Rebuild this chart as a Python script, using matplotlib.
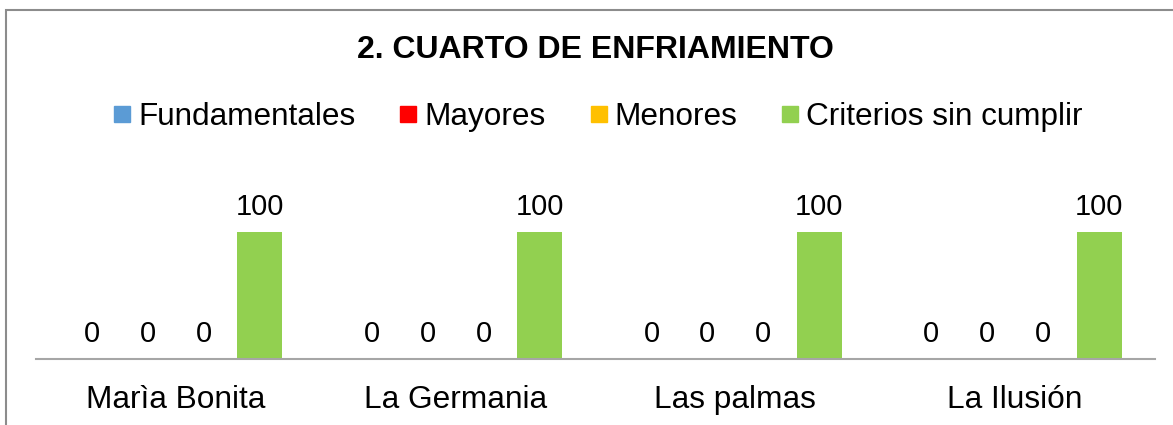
import matplotlib
matplotlib.use("Agg")
import matplotlib.pyplot as plt
from matplotlib.patches import Rectangle, Patch
from matplotlib.legend_handler import HandlerPatch
import numpy as np

plt.rcParams['font.family'] = ['Liberation Sans', 'DejaVu Sans']

categories = ["Marìa Bonita", "La Germania", "Las palmas", "La Ilusión"]
series_names = ["Fundamentales", "Mayores", "Menores", "Criterios sin cumplir"]
fundamentales = [0, 0, 0, 0]
mayores = [0, 0, 0, 0]
menores = [0, 0, 0, 0]
criterios = [100, 100, 100, 100]
colors = ["#5B9BD5", "#FF0000", "#FFC000", "#92D050"]
title = "2. CUARTO DE ENFRIAMIENTO"

W, H = 1173, 425
fig = plt.figure(figsize=(W / 100, H / 100), dpi=100)

# outer chart border (partly cut off on right/bottom)
fig.patches.append(Rectangle((6 / W, -0.1), 1.2, 1 - 10 / H + 0.1,
                             transform=fig.transFigure, fill=False,
                             edgecolor="#8c8c8c", linewidth=1.5))

ax = fig.add_axes([36 / W, 1 - 359 / H, (1155 - 36) / W, 152.4 / H])
x = np.arange(len(categories))
width = 45 / 280
offsets = [-0.3, -0.1, 0.1, 0.3]
all_series = [fundamentales, mayores, menores, criterios]
for vals, off, c, name in zip(all_series, offsets, colors, series_names):
    bars = ax.bar(x + off, vals, width, color=c, label=name)
    ax.bar_label(bars, labels=[f"{v:g}" for v in vals], padding=8, fontsize=21)

ax.set_xlim(-0.5, len(categories) - 0.5)
ax.set_ylim(0, 120)
ax.set_yticks([])
ax.set_xticks(x)
ax.set_xticklabels(categories, fontsize=22.8)
ax.tick_params(axis='x', length=0, pad=19)
for s in ["top", "right", "left"]:
    ax.spines[s].set_visible(False)
ax.spines["bottom"].set_color("#a6a6a6")
ax.spines["bottom"].set_linewidth(1.5)
ax.patch.set_alpha(0)

fig.text(595 / W, 1 - 50 / H, title, ha="center", va="center",
         fontsize=23, fontweight="bold")

SQ = 11.5  # legend square size in points


def square(legend, orig_handle, xdescent, ydescent, width, height, fontsize):
    cx = width / 2 - xdescent
    cy = height / 2 - ydescent
    return Rectangle((cx - SQ / 2, cy - SQ / 2), SQ, SQ)


handles = [Patch(color=c) for c in colors]
fig.legend(handles, series_names, loc="center", bbox_to_anchor=(598.5 / W, 1 - 117 / H),
           ncol=4, frameon=False, fontsize=22.7, handlelength=0.507,
           handletextpad=0.25, columnspacing=1.43,
           handler_map={Patch: HandlerPatch(patch_func=square)})

fig.savefig("out.png", dpi=100)
